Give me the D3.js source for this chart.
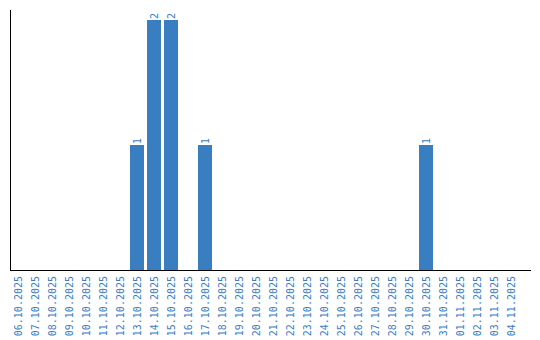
<!DOCTYPE html>
<html lang="en">
<head>
  <meta charset="utf-8">
  <title>Daily counts</title>
  <script src="https://d3js.org/d3.v7.min.js"></script>
  <style>
    body {
      margin: 0;
      background: #ffffff;
    }
    svg text {
      font-family: "DejaVu Sans Mono", monospace;
      text-rendering: optimizeSpeed;
      -webkit-font-smoothing: none;
    }
    .bar { fill: #3a7ec2; }
    .value-label, .tick-label {
      fill: #3a7ec2;
      font-size: 10px;
    }
    .axis-line {
      stroke: #000;
      stroke-width: 1px;
      shape-rendering: crispEdges;
    }
  </style>
</head>
<body>
<script>
// dates shown on the x axis
var dates = [
  "06.10.2025", "07.10.2025", "08.10.2025", "09.10.2025", "10.10.2025",
  "11.10.2025", "12.10.2025", "13.10.2025", "14.10.2025", "15.10.2025",
  "16.10.2025", "17.10.2025", "18.10.2025", "19.10.2025", "20.10.2025",
  "21.10.2025", "22.10.2025", "23.10.2025", "24.10.2025", "25.10.2025",
  "26.10.2025", "27.10.2025", "28.10.2025", "29.10.2025", "30.10.2025",
  "31.10.2025", "01.11.2025", "02.11.2025", "03.11.2025", "04.11.2025"
];
// count per day
var counts = [
  0, 0, 0, 0, 0, 0, 0, 1, 2, 2,
  0, 1, 0, 0, 0, 0, 0, 0, 0, 0,
  0, 0, 0, 0, 1, 0, 0, 0, 0, 0
];

var width = 540, height = 340;
var marginLeft = 11, plotBottom = 270, plotTop = 20;

var data = dates.map(function(d, i) { return { date: d, value: counts[i] }; });

var svg = d3.select("body").append("svg")
    .attr("width", width)
    .attr("height", height);

var x = d3.scaleBand()
    .domain(dates)
    .range([marginLeft, 521])
    .paddingInner(3 / 17)
    .paddingOuter(3 / 34)
    .align(0);

var y = d3.scaleLinear()
    .domain([0, d3.max(counts)])
    .range([plotBottom, plotTop]);

svg.append("g")
  .selectAll("rect")
  .data(data.filter(d => d.value > 0))
  .enter().append("rect")
    .attr("class", "bar")
    .attr("x", d => x(d.date))
    .attr("y", d => y(d.value))
    .attr("width", x.bandwidth())
    .attr("height", d => y(0) - y(d.value));

// value labels, rotated above each bar
svg.append("g")
  .selectAll("text")
  .data(data.filter(d => d.value > 0))
  .enter().append("text")
    .attr("class", "value-label")
    .attr("transform", d => "translate(" + (x(d.date) + x.bandwidth() / 2) + "," + (y(d.value) - 1) + ") rotate(-90)")
    .attr("dy", "0.35em")
    .text(d => d.value);

// x axis labels
var xAxis = d3.axisBottom(x).tickSize(0).tickPadding(0);
var gx = svg.append("g")
    .attr("transform", "translate(0," + plotBottom + ")")
    .call(xAxis)
    .attr("font-family", null)
    .attr("font-size", null);
gx.select(".domain").remove();
gx.selectAll("text")
    .attr("class", "tick-label")
    .attr("fill", null)
    .attr("y", 0)
    .attr("x", -6)
    .attr("dy", "0.35em")
    .attr("text-anchor", "end")
    .attr("transform", "rotate(-90)");

// axis lines
svg.append("line")
    .attr("class", "axis-line")
    .attr("x1", 10.5).attr("x2", 10.5)
    .attr("y1", 10).attr("y2", plotBottom);
svg.append("line")
    .attr("class", "axis-line")
    .attr("x1", 10).attr("x2", 531)
    .attr("y1", plotBottom + 0.5).attr("y2", plotBottom + 0.5);
</script>
</body>
</html>
